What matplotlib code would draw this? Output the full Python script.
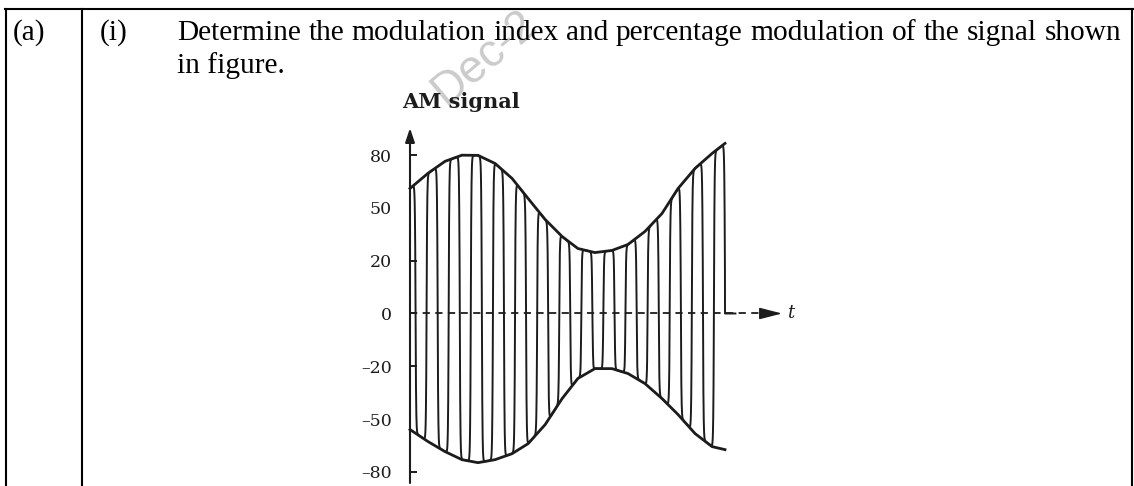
import numpy as np
import matplotlib.pyplot as plt
from matplotlib.lines import Line2D

W, H = 1134, 486
ink = '#1c1c1c'

# question text
part_label = "(a)"
sub_label = "(i)"
question_line1 = "Determine the modulation index and percentage modulation of the signal shown"
question_line2 = "in figure."
watermark = "Dec-2"

# AM signal (time in arbitrary units)
t_env = [0.0, 0.57, 1.11, 1.65, 2.16, 2.70, 3.24, 3.75, 4.29, 4.83,
         5.33, 5.87, 6.41, 6.92, 7.46, 8.00, 8.51, 9.05, 9.59, 10.0]
upper_env = [61.0, 69.6, 76.4, 79.9, 79.8, 75.2, 66.7, 55.3, 43.4, 33.7,
             26.9, 24.6, 25.8, 29.2, 36.6, 46.8, 61.0, 72.4, 80.9, 86.6]
lower_env = [-55.9, -62.7, -68.4, -73.0, -74.7, -73.0, -69.6, -63.9, -53.1, -38.3,
             -26.9, -21.3, -21.3, -24.1, -29.8, -38.3, -47.4, -58.2, -65.6, -67.3]
n_cycles = 14          # carrier crests after the first one
y_ticks = [-80, -20, 0, 20, 80]
y_ticks_unmarked = [-50, 50]

# the printed axis has evenly spaced ticks with uneven values
lvl_val = [-110, -80, -50, -20, 0, 20, 50, 80, 110]
lvl_pos = [-4, -3, -2, -1, 0, 1, 2, 3, 4]


def fwd(v):
    return np.interp(v, lvl_val, lvl_pos)


def inv(p):
    return np.interp(p, lvl_pos, lvl_val)


def lab(v):
    return str(v).replace('-', '\u2013')


fig = plt.figure(figsize=(W / 100, H / 100), dpi=100)
fig.patch.set_facecolor('white')

# ---- table frame ----
def hline(y, x0, x1):
    fig.add_artist(Line2D([x0 / W, x1 / W], [1 - y / H, 1 - y / H], color='black', lw=1.5))


def vline(x, y0, y1):
    fig.add_artist(Line2D([x / W, x / W], [1 - y0 / H, 1 - y1 / H], color='black', lw=1.5))


hline(9.5, 5.3, W)
vline(6, 9, H)
vline(82, 9, H)
vline(1131.5, 9, H)

# ---- watermark ----
fig.text(484 / W, 1 - 58 / H, watermark, rotation=40, rotation_mode='anchor',
         ha='center', va='center', fontsize=33, color='#cbcbcb',
         family='Liberation Sans', zorder=0)

# ---- question text ----
txt_kw = dict(family='Liberation Serif', fontsize=21.2, color='black', va='baseline')
base1, base2 = 39.5, 73
fig.text(13 / W, 1 - base1 / H, part_label, **txt_kw)
fig.text(100 / W, 1 - base1 / H, sub_label, **txt_kw)

renderer = fig.canvas.get_renderer()
words = question_line1.split()
arts = [fig.text(0, 0, w, **txt_kw) for w in words]
widths = [a.get_window_extent(renderer).width for a in arts]
x_left, x_right = 177, 1121
gap = (x_right - x_left - sum(widths)) / (len(words) - 1)
x = x_left
for a, w in zip(arts, widths):
    a.set_position((x / W, 1 - base1 / H))
    x += w + gap
fig.text(177 / W, 1 - base2 / H, question_line2, **txt_kw)

# ---- AM signal figure ----
px_per_t = 31.5
px_per_pos = 52.83
zero_px = 313.5
ax_left, ax_right, ax_top = 410, 800, 120

ax = fig.add_axes([ax_left / W, 0, (ax_right - ax_left) / W, (H - ax_top) / H])
ax.set_facecolor('none')
ax.set_yscale('function', functions=(fwd, inv))
ax.set_xlim(0, (ax_right - ax_left) / px_per_t)
ax.set_ylim(inv((zero_px - H) / px_per_pos), inv((zero_px - ax_top) / px_per_pos))
for s in ax.spines.values():
    s.set_visible(False)
ax.set_xticks([])

ax.set_yticks(y_ticks, labels=[lab(v) for v in y_ticks])
ax.set_yticks(y_ticks_unmarked, labels=[lab(v) for v in y_ticks_unmarked], minor=True)
ax.tick_params(axis='y', which='both', direction='in', pad=13, labelsize=12.5,
               colors=ink, labelfontfamily='DejaVu Serif')
ax.tick_params(axis='y', which='major', length=5, width=1.4)
ax.tick_params(axis='y', which='minor', length=0)

# vertical axis with arrow
ax.annotate('', xy=(0, inv((zero_px - 128) / px_per_pos)),
            xytext=(0, inv((zero_px - 483) / px_per_pos)),
            arrowprops=dict(arrowstyle='-|>,head_length=0.6,head_width=0.2',
                            mutation_scale=14, lw=1.5, color=ink,
                            shrinkA=0, shrinkB=0),
            annotation_clip=False)

# carrier squeezed between the two envelopes
t_end = t_env[-1]
period = t_end / (n_cycles + 0.25)
t = np.linspace(0, t_end, 5000)
up = np.interp(t, t_env, upper_env)
lo = np.interp(t, t_env, lower_env)
sq = np.tanh(5.0 * np.cos(2 * np.pi * t / period)) / np.tanh(5.0)
sig = (up + lo) / 2 + (up - lo) / 2 * sq
t_sig = np.append(t, [t_end, t_end + 0.33])
sig = np.append(sig, [0, 0])
ax.plot(t_sig, sig, color=ink, lw=1.4, clip_on=False, zorder=3)

ax.plot(t_env, upper_env, color=ink, lw=2.0, clip_on=False, zorder=4)
ax.plot(t_env, lower_env, color=ink, lw=2.0, clip_on=False, zorder=4)

# dashed time axis with arrow
t_tip = (782 - ax_left) / px_per_t
t_base = (762 - ax_left) / px_per_t
ax.plot([0, t_base], [0, 0], color=ink, lw=1.3, ls=(0, (4, 3)), zorder=2)
ax.annotate('', xy=(t_tip, 0), xytext=(t_base, 0),
            arrowprops=dict(arrowstyle='-|>,head_length=0.7,head_width=0.18',
                            mutation_scale=20, lw=1.0, color=ink,
                            shrinkA=0, shrinkB=0))
ax.text((787 - ax_left) / px_per_t, 0, 't', style='italic', family='DejaVu Serif',
        fontsize=13, color=ink, va='center', ha='left')

fig.text(402 / W, 1 - 108 / H, 'AM signal', family='DejaVu Serif', weight='bold',
         fontsize=15, color=ink, va='baseline')

fig.savefig('out.png', dpi=100)
